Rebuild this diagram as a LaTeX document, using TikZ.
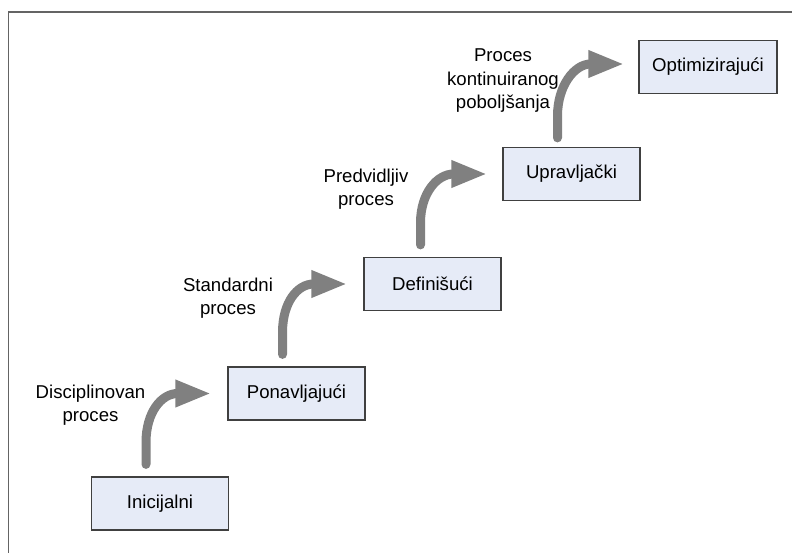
\documentclass[tikz,border=0pt]{standalone}
\usepackage{fontspec}
\setmainfont{Liberation Sans}
\usetikzlibrary{arrows.meta,calc}
\definecolor{boxfill}{RGB}{230,235,247}
\definecolor{boxline}{RGB}{64,64,64}
\definecolor{arrowgray}{RGB}{128,128,128}
\definecolor{framegray}{RGB}{100,100,100}
\begin{document}
\begin{tikzpicture}[x=1pt,y=-1pt,
  stage/.style={draw=boxline, line width=1.2pt, fill=boxfill, minimum width=137pt, minimum height=53pt, inner sep=0pt, font=\fontsize{18.6}{23.5}\selectfont},
  lbl/.style={align=center, font=\fontsize{18.6}{23.5}\selectfont, inner sep=0pt},
  bigarrow/.style={draw=arrowgray, line width=9pt, line cap=round, -{Triangle[length=36pt,width=25pt]}},
  frameline/.style={draw=framegray, line width=1.5pt}]
\useasboundingbox (0,0) rectangle (792,553);
\coordinate (fbl) at (8.5,553);
\coordinate (ftl) at (8.5,12);
\coordinate (ftr) at (792,12);
\draw[frameline] (fbl) -- (ftl) -- (ftr);

\node[stage] (n1) at (160,503.5) {Inicijalni};
\node[stage] (n2) at (296.5,393.5) {Ponavljajući};
\node[stage] (n3) at (432.5,284) {Definišući};
\node[stage] (n4) at (571.5,174) {Upravljački};
\node[stage, minimum width=138pt] (n5) at (708,67) {Optimizirajući};

\node[lbl] (l1) at (90.5,405) {Disciplinovan\\proces};
\node[lbl] (l2) at (228,298) {Standardni\\proces};
\node[lbl] (l3) at (366,189) {Predvidljiv\\proces};
\node[lbl] (l4) at (503,81) {Proces\\kontinuiranog\\poboljšanja};

\draw[bigarrow] ($(n1.north)+(-14,-12)$) -- ++(0,-22) .. controls +(0,-30) and +(-50,0) .. ($(n2.west)+(-16,0)$);
\draw[bigarrow] ($(n2.north)+(-14,-12)$) -- ++(0,-22) .. controls +(0,-30) and +(-50,0) .. ($(n3.west)+(-16,0)$);
\draw[bigarrow] ($(n3.north)+(-12,-12)$) -- ++(0,-22) .. controls +(0,-30) and +(-50,0) .. ($(n4.west)+(-15,0)$);
\draw[bigarrow] ($(n4.north)+(-14,-9)$) -- ++(0,-22) .. controls +(0,-30) and +(-50,0) .. ($(n5.west)+(-14,-3)$);
\end{tikzpicture}
\end{document}
